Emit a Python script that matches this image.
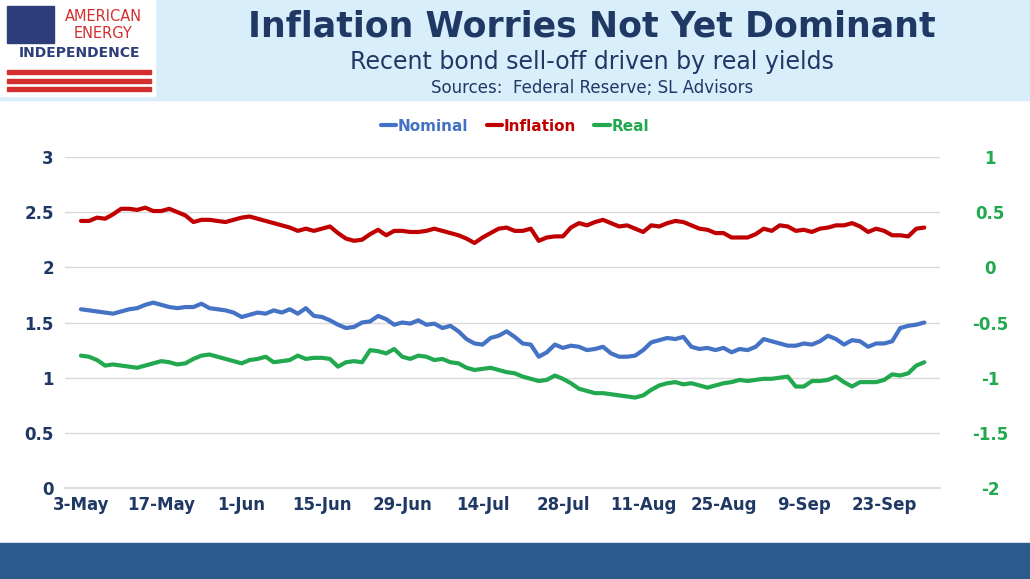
import numpy as np, pandas as pd, seaborn as sns, matplotlib
matplotlib.use("Agg")
import matplotlib.pyplot as plt
from matplotlib.patches import Rectangle

sns.set_theme(style="white")
plt.rcParams['font.family'] = ['DejaVu Sans']

dates = pd.bdate_range("2021-05-03", "2021-09-30")
dates = dates[~dates.isin(pd.to_datetime(["2021-05-31", "2021-07-05", "2021-09-06"]))]
tick_labels = ["3-May","17-May","1-Jun","15-Jun","29-Jun","14-Jul","28-Jul","11-Aug","25-Aug","9-Sep","23-Sep"]

nominal = [1.62,1.61,1.60,1.59,1.58,1.60,1.62,1.63,1.66,1.68,
           1.66,1.64,1.63,1.64,1.64,1.67,1.63,1.62,1.61,1.59,
           1.55,1.57,1.59,1.58,1.61,1.59,1.62,1.58,1.63,1.56,
           1.55,1.52,1.48,1.45,1.46,1.50,1.51,1.56,1.53,1.48,
           1.50,1.49,1.52,1.48,1.49,1.45,1.47,1.42,1.35,1.31,
           1.30,1.36,1.38,1.42,1.37,1.31,1.30,1.19,1.23,1.30,
           1.27,1.29,1.28,1.25,1.26,1.28,1.22,1.19,1.19,1.20,
           1.25,1.32,1.34,1.36,1.35,1.37,1.28,1.26,1.27,1.25,
           1.27,1.23,1.26,1.25,1.28,1.35,1.33,1.31,1.29,1.29,
           1.31,1.30,1.33,1.38,1.35,1.30,1.34,1.33,1.28,1.31,
           1.31,1.33,1.45,1.47,1.48,1.50]
real = [-0.80,-0.81,-0.84,-0.89,-0.88,-0.89,-0.90,-0.91,-0.89,-0.87,
        -0.85,-0.86,-0.88,-0.87,-0.83,-0.80,-0.79,-0.81,-0.83,-0.85,
        -0.87,-0.84,-0.83,-0.81,-0.86,-0.85,-0.84,-0.80,-0.83,-0.82,
        -0.82,-0.83,-0.90,-0.86,-0.85,-0.86,-0.75,-0.76,-0.78,-0.74,
        -0.81,-0.83,-0.80,-0.81,-0.84,-0.83,-0.86,-0.87,-0.91,-0.93,
        -0.92,-0.91,-0.93,-0.95,-0.96,-0.99,-1.01,-1.03,-1.02,-0.98,
        -1.01,-1.05,-1.10,-1.12,-1.14,-1.14,-1.15,-1.16,-1.17,-1.18,
        -1.16,-1.11,-1.07,-1.05,-1.04,-1.06,-1.05,-1.07,-1.09,-1.07,
        -1.05,-1.04,-1.02,-1.03,-1.02,-1.01,-1.01,-1.00,-0.99,-1.08,
        -1.08,-1.03,-1.03,-1.02,-0.99,-1.04,-1.08,-1.04,-1.04,-1.04,
        -1.02,-0.97,-0.98,-0.96,-0.89,-0.86]
inflation = [2.42,2.42,2.45,2.44,2.48,2.53,2.53,2.52,2.54,2.51,
             2.51,2.53,2.50,2.47,2.41,2.43,2.43,2.42,2.41,2.43,
             2.45,2.46,2.44,2.42,2.40,2.38,2.36,2.33,2.35,2.33,
             2.35,2.37,2.31,2.26,2.24,2.25,2.30,2.34,2.29,2.33,
             2.33,2.32,2.32,2.33,2.35,2.33,2.31,2.29,2.26,2.22,
             2.27,2.31,2.35,2.36,2.33,2.33,2.35,2.24,2.27,2.28,
             2.28,2.36,2.40,2.38,2.41,2.43,2.40,2.37,2.38,2.35,
             2.32,2.38,2.37,2.40,2.42,2.41,2.38,2.35,2.34,2.31,
             2.31,2.27,2.27,2.27,2.30,2.35,2.33,2.38,2.37,2.33,
             2.34,2.32,2.35,2.36,2.38,2.38,2.40,2.37,2.32,2.35,
             2.33,2.29,2.29,2.28,2.35,2.36]

idx = np.arange(len(dates))
df = pd.DataFrame({"i": idx, "Nominal": nominal, "Inflation": inflation, "Real": real})

BLUE, RED, GREEN, NAVY = "#4472c4", "#c00000", "#22a94f", "#1f3864"

fig = plt.figure(figsize=(10.3, 5.79), dpi=100)
fig.patches.append(Rectangle((0, 0.827), 1, 0.173, transform=fig.transFigure, color="#d9eefb", zorder=0))
fig.patches.append(Rectangle((0, 0), 1, 0.062, transform=fig.transFigure, color="#2b5a8c", zorder=0))
fig.patches.append(Rectangle((0, 0.835), 0.15, 0.165, transform=fig.transFigure, color="white", zorder=1))
fig.patches.append(Rectangle((0.007, 0.925), 0.045, 0.065, transform=fig.transFigure, color="#2d3e7a", zorder=2))
for k in range(3):
    fig.patches.append(Rectangle((0.007, 0.842 + k*0.015), 0.14, 0.007, transform=fig.transFigure, color="#d32f2f", zorder=2))
fig.text(0.1, 0.972, "AMERICAN", color="#d32f2f", fontsize=10.5, ha="center", va="center", zorder=3)
fig.text(0.1, 0.942, "ENERGY", color="#d32f2f", fontsize=10.5, ha="center", va="center", zorder=3)
fig.text(0.077, 0.908, "INDEPENDENCE", color="#2d3e7a", fontsize=10, fontweight="bold", ha="center", va="center", zorder=3)

fig.text(0.575, 0.955, "Inflation Worries Not Yet Dominant", color=NAVY, fontsize=25, fontweight="bold", ha="center", va="center")
fig.text(0.575, 0.893, "Recent bond sell-off driven by real yields", color=NAVY, fontsize=17, ha="center", va="center")
fig.text(0.575, 0.848, "Sources:  Federal Reserve; SL Advisors", color=NAVY, fontsize=12, ha="center", va="center")

ax = fig.add_axes([0.063, 0.157, 0.85, 0.572])
ax2 = ax.twinx()
sns.lineplot(data=df, x="i", y="Nominal", ax=ax, color=BLUE, lw=3, label="Nominal", legend=False)
sns.lineplot(data=df, x="i", y="Inflation", ax=ax, color=RED, lw=3, label="Inflation", legend=False)
sns.lineplot(data=df, x="i", y="Real", ax=ax2, color=GREEN, lw=3, label="Real", legend=False)

ax.set_ylim(0, 3); ax2.set_ylim(-2, 1)
ax.set_yticks([0, 0.5, 1, 1.5, 2, 2.5, 3]); ax.set_yticklabels(["0","0.5","1","1.5","2","2.5","3"])
ax2.set_yticks([-2,-1.5,-1,-0.5,0,0.5,1]); ax2.set_yticklabels(["-2","-1.5","-1","-0.5","0","0.5","1"])
ax.set_xlim(-2, 107)
ax.set_xticks(np.arange(0, 101, 10)); ax.set_xticklabels(tick_labels)
ax.grid(axis="y", color="#d9d9d9", lw=1)
ax.set_xlabel(""); ax.set_ylabel(""); ax2.set_ylabel("")
for a in (ax, ax2):
    for s in a.spines.values():
        s.set_visible(False)
ax.spines["bottom"].set_visible(True); ax.spines["bottom"].set_color("#d9d9d9")
ax.tick_params(axis="y", colors=NAVY, labelsize=12, length=0, pad=8)
ax.tick_params(axis="x", colors=NAVY, labelsize=12, length=0, pad=6)
ax2.tick_params(axis="y", colors=GREEN, labelsize=12, length=0, pad=36)
for t in ax.get_xticklabels() + ax.get_yticklabels() + ax2.get_yticklabels():
    t.set_fontweight("bold")
for t in ax2.get_yticklabels():
    t.set_ha("center")

h1, l1 = ax.get_legend_handles_labels(); h2, l2 = ax2.get_legend_handles_labels()
leg = fig.legend(h1 + h2, l1 + l2, loc="center", bbox_to_anchor=(0.5, 0.782), ncol=3, frameon=False,
                 fontsize=11, handlelength=1.0, columnspacing=1.2, handletextpad=0.1)
for t, c in zip(leg.get_texts(), [BLUE, RED, GREEN]):
    t.set_color(c); t.set_fontweight("bold")

fig.savefig("out.png", dpi=100)
